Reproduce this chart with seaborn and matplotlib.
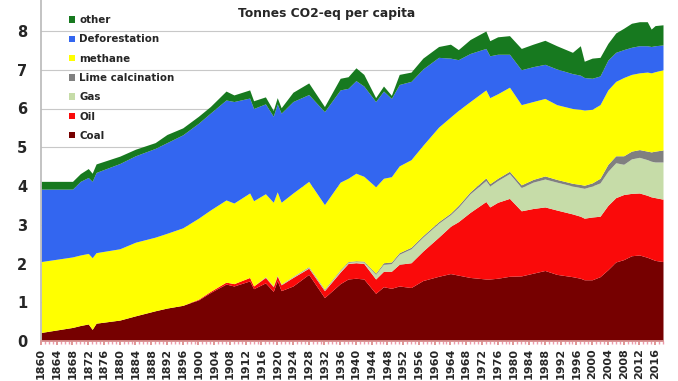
import matplotlib
matplotlib.use("Agg")
import matplotlib.pyplot as plt
from matplotlib.patches import Patch
from matplotlib.ticker import MultipleLocator
import pandas as pd
import seaborn as sns

# DATA (tonnes CO2-eq per capita)
years = [1860, 1868, 1870, 1872, 1873, 1874, 1880, 1884, 1889, 1892, 1896,
         1900, 1903, 1907, 1909, 1913, 1914, 1917, 1919, 1920, 1921, 1924,
         1928, 1932, 1936, 1938, 1940, 1942, 1945, 1947, 1949, 1951, 1954,
         1957, 1961, 1964, 1966, 1969, 1973, 1974, 1976, 1979, 1982, 1985,
         1988, 1991, 1995, 1997, 1998, 2000, 2002, 2004, 2006, 2008, 2010,
         2012, 2014, 2015, 2016, 2018]

coal = [0.22, 0.35, 0.40, 0.44, 0.30, 0.46, 0.54, 0.65, 0.78, 0.85, 0.92,
        1.06, 1.25, 1.47, 1.42, 1.55, 1.35, 1.50, 1.28, 1.56, 1.30, 1.42,
        1.72, 1.12, 1.48, 1.60, 1.62, 1.60, 1.23, 1.40, 1.36, 1.42, 1.38,
        1.56, 1.67, 1.74, 1.70, 1.64, 1.60, 1.60, 1.62, 1.67, 1.68, 1.75,
        1.82, 1.72, 1.66, 1.62, 1.58, 1.58, 1.66, 1.84, 2.04, 2.10, 2.20,
        2.22, 2.16, 2.12, 2.08, 2.05]
oil = [0, 0, 0, 0, 0, 0, 0, 0, 0, 0, 0,
       0.02, 0.03, 0.05, 0.06, 0.09, 0.07, 0.14, 0.12, 0.12, 0.15, 0.22,
       0.16, 0.18, 0.30, 0.40, 0.40, 0.40, 0.37, 0.40, 0.44, 0.56, 0.64,
       0.76, 1.01, 1.22, 1.38, 1.68, 2.00, 1.86, 1.96, 2.01, 1.68, 1.67,
       1.64, 1.66, 1.62, 1.60, 1.59, 1.62, 1.56, 1.66, 1.66, 1.68, 1.61,
       1.60, 1.60, 1.60, 1.62, 1.61]
gas = [0, 0, 0, 0, 0, 0, 0, 0, 0, 0, 0,
       0, 0, 0, 0, 0, 0, 0.01, 0.01, 0.01, 0.01, 0.02,
       0.02, 0.02, 0.04, 0.03, 0.03, 0.04, 0.12, 0.18, 0.20, 0.26, 0.36,
       0.36, 0.36, 0.30, 0.37, 0.48, 0.54, 0.54, 0.56, 0.64, 0.60, 0.68,
       0.72, 0.72, 0.72, 0.74, 0.77, 0.80, 0.86, 0.88, 0.90, 0.78, 0.89,
       0.92, 0.92, 0.92, 0.92, 0.96]
lime = [0, 0, 0, 0, 0, 0, 0, 0, 0, 0, 0,
        0, 0, 0, 0, 0, 0, 0.01, 0.01, 0.01, 0.01, 0.01,
        0.02, 0.02, 0.02, 0.02, 0.02, 0.02, 0.03, 0.04, 0.04, 0.04, 0.04,
        0.04, 0.04, 0.04, 0.05, 0.05, 0.07, 0.06, 0.06, 0.06, 0.07, 0.07,
        0.08, 0.07, 0.07, 0.08, 0.08, 0.08, 0.12, 0.18, 0.18, 0.22, 0.20,
        0.20, 0.22, 0.24, 0.28, 0.31]
methane = [1.83, 1.82, 1.82, 1.82, 1.85, 1.82, 1.84, 1.90, 1.90, 1.93, 2.00,
           2.09, 2.10, 2.12, 2.08, 2.18, 2.20, 2.14, 2.16, 2.15, 2.11, 2.15,
           2.20, 2.18, 2.26, 2.15, 2.26, 2.19, 2.23, 2.18, 2.20, 2.24, 2.26,
           2.33, 2.44, 2.48, 2.45, 2.33, 2.27, 2.22, 2.18, 2.17, 2.07, 2.01,
           2.00, 1.93, 1.93, 1.94, 1.94, 1.90, 1.90, 1.92, 1.92, 2.02, 1.98,
           1.98, 2.04, 2.04, 2.05, 2.07]
deforestation = [1.87, 1.75, 1.90, 1.96, 1.97, 2.07, 2.20, 2.23, 2.29, 2.34, 2.40,
                 2.45, 2.50, 2.58, 2.62, 2.45, 2.38, 2.32, 2.22, 2.27, 2.30, 2.36,
                 2.24, 2.40, 2.38, 2.32, 2.39, 2.33, 2.20, 2.25, 2.02, 2.10, 2.02,
                 1.97, 1.80, 1.52, 1.31, 1.24, 1.07, 1.08, 1.02, 0.85, 0.90, 0.90,
                 0.88, 0.92, 0.90, 0.88, 0.84, 0.80, 0.74, 0.77, 0.75, 0.72, 0.70,
                 0.70, 0.68, 0.68, 0.67, 0.64]
other = [0.20, 0.20, 0.20, 0.23, 0.21, 0.22, 0.19, 0.17, 0.15, 0.21, 0.18,
         0.18, 0.17, 0.23, 0.17, 0.21, 0.20, 0.18, 0.15, 0.16, 0.14, 0.24,
         0.30, 0.13, 0.30, 0.30, 0.33, 0.30, 0.10, 0.13, 0.08, 0.26, 0.24,
         0.28, 0.28, 0.36, 0.26, 0.36, 0.45, 0.39, 0.45, 0.48, 0.55, 0.58,
         0.62, 0.60, 0.55, 0.76, 0.42, 0.52, 0.48, 0.43, 0.50, 0.55, 0.62,
         0.62, 0.62, 0.45, 0.52, 0.52]

labels = ["Coal", "Oil", "Gas", "Lime calcination", "methane", "Deforestation", "other"]
colors = ["#760000", "#fa0a0a", "#c6dca8", "#808080", "#ffff00", "#3366f0", "#17791f"]

df = pd.DataFrame({"year": years, "Coal": coal, "Oil": oil, "Gas": gas,
                   "Lime calcination": lime, "methane": methane,
                   "Deforestation": deforestation, "other": other})

sns.set_theme(style="whitegrid")
plt.rcParams['font.family'] = ['DejaVu Sans']

fig = plt.figure(figsize=(6.78, 3.81), dpi=100)
ax = fig.add_axes([41 / 678, 40 / 381, 622 / 678, 341 / 381])

ax.stackplot(df["year"], [df[c] for c in labels], colors=colors, linewidth=0)

ax.set_xlim(1860, 2018)
ax.set_ylim(0, 8.8)
ax.set_yticks(range(0, 9))
ax.set_xticks(range(1860, 2017, 4))
ax.xaxis.set_minor_locator(MultipleLocator(1))
ax.tick_params(axis="x", which="major", labelsize=8, rotation=90, length=3,
               color="#d88", bottom=True, pad=2)
ax.tick_params(axis="x", which="minor", length=2, color="#e9a", bottom=True)
ax.tick_params(axis="y", labelsize=10.5, pad=10, length=0)
for t in ax.get_xticklabels() + ax.get_yticklabels():
    t.set_fontweight("bold")

ax.grid(axis="x", visible=False)
ax.grid(axis="y", color="#c8c8c8", linewidth=0.8)
ax.set_axisbelow(True)
for s in ["top", "right"]:
    ax.spines[s].set_visible(False)
ax.spines["left"].set_color("#bbbbbb")
ax.spines["bottom"].set_color("#dd9999")
ax.set_xlabel("")
ax.set_ylabel("")

fig.text(327 / 678, 1 - 14 / 381, "Tonnes CO2-eq per capita", ha="center", va="center",
         fontsize=8.8, fontweight="bold")

handles = [Patch(facecolor=c, edgecolor="none") for c in colors][::-1]
leg = fig.legend(handles, labels[::-1], loc="upper left",
                 bbox_to_anchor=(60 / 678, 1 - 6 / 381), frameon=False,
                 prop={"weight": "bold", "size": 7.4}, handlelength=0.6,
                 handleheight=0.6, handletextpad=0.35, labelspacing=0.9)

fig.savefig("out.png", dpi=100)
